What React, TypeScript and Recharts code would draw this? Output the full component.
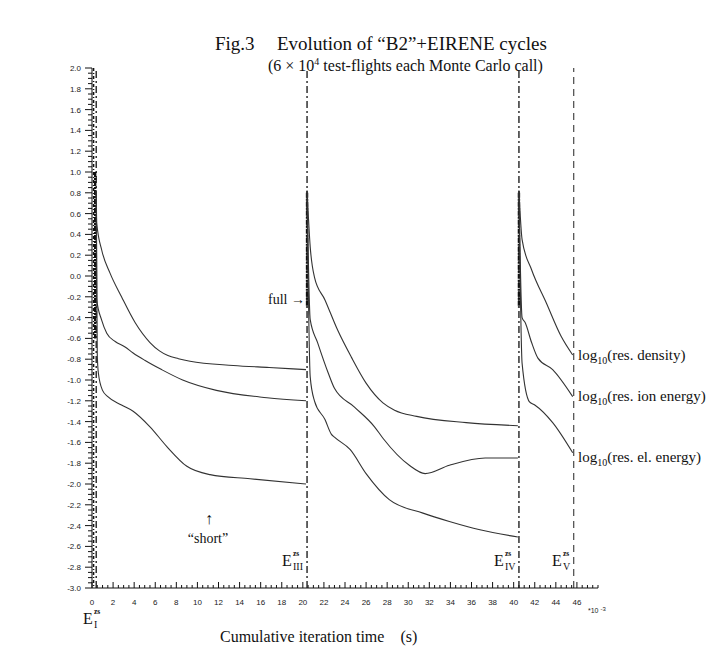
import React from "react";
import { LineChart, Line, XAxis, YAxis, ReferenceLine } from "recharts";

// readings taken off the figure: [time (1e-3 s), log10 residual]
const densityC1 = [[0.4, 0.82], [0.45, 0.51], [0.92, 0.25], [1.7, 0.03], [2.8, -0.2], [4.1, -0.45], [5.5, -0.64], [6.4, -0.72], [7.2, -0.765], [8.2, -0.795], [9.3, -0.82], [13.4, -0.86], [16.8, -0.88], [20.3, -0.9]];
const densityC2 = [[20.4, 0.82], [20.7, 0.28], [21.1, -0.01], [22.1, -0.23], [23.3, -0.52], [24.6, -0.78], [26, -1.03], [27.6, -1.22], [28.7, -1.29], [30.8, -1.35], [35.5, -1.41], [40.4, -1.44]];
const densityC3 = [[40.5, 0.82], [40.8, 0.35], [41.7, 0.06], [43.1, -0.26], [44.5, -0.58], [45.6, -0.76]];

const ionC1 = [[0.4, 0.82], [0.45, -0.23], [0.9, -0.42], [1.4, -0.55], [2.2, -0.63], [3.1, -0.68], [3.9, -0.74], [5.0, -0.81], [6.6, -0.9], [8.6, -1.0], [11.8, -1.1], [16.6, -1.17], [20.3, -1.2]];
const ionC2 = [[20.4, 0.82], [20.7, -0.42], [21.4, -0.64], [22.4, -0.93], [23, -1.08], [24.9, -1.26], [26.8, -1.45], [27.6, -1.56], [30.1, -1.82], [31.6, -1.9], [33.9, -1.82], [37.3, -1.75], [40.4, -1.75]];
const ionC3 = [[40.5, 0.82], [40.8, -0.4], [41.1, -0.45], [41.7, -0.64], [42.3, -0.79], [43.7, -0.9], [45.6, -1.16]];

const elC1 = [[0.4, 0.82], [0.5, -0.75], [0.6, -0.93], [1.0, -1.1], [1.5, -1.16], [2.8, -1.24], [3.9, -1.3], [5.5, -1.45], [7.1, -1.64], [9.0, -1.83], [11.2, -1.91], [15, -1.95], [20.3, -2.0]];
const elC2 = [[20.4, 0.82], [20.7, -0.97], [21.1, -1.2], [22.1, -1.38], [22.7, -1.52], [23, -1.55], [24.5, -1.67], [26, -1.9], [28.2, -2.15], [31.4, -2.28], [33.9, -2.36], [36.8, -2.44], [40.4, -2.51]];
const elC3 = [[40.5, 0.82], [40.8, -0.84], [41.5, -1.21], [42.0, -1.24], [43.7, -1.41], [45.6, -1.7]];

// cycle boundaries (E_I, E_III, E_IV, E_V)
const boundaries = [0.4, 20.4, 40.5, 45.7];
// dense "short" runs smeared along the boundaries: [time, top, bottom]
const shortRuns = [[0.3, 1.0, -0.6], [0.15, 2.0, -3.0], [20.4, 0.8, -0.3], [40.5, 0.8, -0.3]];

const xMajor = [0, 2, 4, 6, 8, 10, 12, 14, 16, 18, 20, 22, 24, 26, 28, 30, 32, 34, 36, 38, 40, 42, 44, 46];
const yMajor = [2.0, 1.8, 1.6, 1.4, 1.2, 1.0, 0.8, 0.6, 0.4, 0.2, 0.0, -0.2, -0.4, -0.6, -0.8, -1.0, -1.2, -1.4, -1.6, -1.8, -2.0, -2.2, -2.4, -2.6, -2.8, -3.0];

const xTicks: number[] = [];
for (let i = 0; i <= 96; i++) xTicks.push(i * 0.5);
const yTicks: number[] = [];
for (let i = 0; i <= 100; i++) yTicks.push(Math.round((-3 + i * 0.05) * 100) / 100);

const series = [densityC1, densityC2, densityC3, ionC1, ionC2, ionC3, elC1, elC2, elC3].map((s) =>
  s.map(([t, v]) => ({ t, v }))
);

const serif = "'Liberation Serif', 'DejaVu Serif', serif";
const sans = "'Liberation Sans', Arial, sans-serif";

const isMajor = (list: number[], v: number) => list.some((m) => Math.abs(m - v) < 1e-6);

const YTick = (props: any) => {
  const { x, y, payload } = props;
  const major = isMajor(yMajor, payload.value);
  return (
    <g>
      <line x1={x - (major ? 7 : 4)} x2={x} y1={y} y2={y} stroke="#111" strokeWidth={1} />
      {major && (
        <text x={x - 11} y={y + 3} textAnchor="end" fontSize={8} fontFamily={sans} fill="#222">
          {payload.value.toFixed(1)}
        </text>
      )}
    </g>
  );
};

const XTick = (props: any) => {
  const { x, y, payload } = props;
  const major = isMajor(xMajor, payload.value);
  return (
    <g>
      <line x1={x} x2={x} y1={y} y2={y - (major ? 6 : 3)} stroke="#111" strokeWidth={1} />
      {major && (
        <text x={x} y={y + 17} textAnchor="middle" fontSize={8} fontFamily={sans} fill="#222">
          {payload.value}
        </text>
      )}
    </g>
  );
};

// E with "zs" stacked over the roman subscript
const ELabel = ({ x, y, sub }: { x: number; y: number; sub: string }) => (
  <text x={x} y={y} fontFamily={serif} fontSize={16} fill="#111">
    E
    <tspan x={x + 11} dy={-10} fontSize={7.5} fontWeight="bold">zs</tspan>
    <tspan x={x + 11} dy={14} fontSize={10}>{sub}</tspan>
  </text>
);

const LogLabel = ({ y, what }: { y: number; what: string }) => (
  <text x={578} y={y} fontFamily={serif} fontSize={15} fill="#111">
    log<tspan fontSize={10} dy={4}>10</tspan>
    <tspan dy={-4}>(res. {what})</tspan>
  </text>
);

export default function App() {
  return (
    <div style={{ position: "absolute", left: 0, top: 0, width: 717, height: 670, background: "#fff" }}>
      <LineChart width={717} height={670} margin={{ top: 68, right: 119, bottom: 52, left: 42 }}>
        <XAxis
          type="number"
          dataKey="t"
          domain={[0, 48]}
          ticks={xTicks}
          interval={0}
          tickSize={0}
          tickMargin={0}
          tickLine={false}
          tick={<XTick />}
          axisLine={{ stroke: "#111" }}
          height={30}
          allowDataOverflow
        />
        <YAxis
          type="number"
          domain={[-3, 2]}
          ticks={yTicks}
          interval={0}
          tickSize={0}
          tickMargin={0}
          tickLine={false}
          tick={<YTick />}
          axisLine={{ stroke: "#111" }}
          width={50}
          allowDataOverflow
        />
        {boundaries.map((b, i) => (
          <ReferenceLine
            key={b}
            x={b}
            stroke="#222"
            strokeWidth={i === 3 ? 1 : 1.4}
            strokeDasharray={i === 3 ? "7 5" : "7 3 2 3"}
          />
        ))}
        {shortRuns.map(([t, top, bottom], i) => (
          <ReferenceLine
            key={"s" + i}
            segment={[{ x: t, y: top }, { x: t, y: bottom }]}
            stroke="#111"
            strokeWidth={i === 1 ? 1.5 : 2.4}
            strokeDasharray={i === 1 ? "3 2 1 2" : "5 1 2 1"}
          />
        ))}
        {series.map((pts, i) => (
          <Line
            key={i}
            data={pts}
            dataKey="v"
            type="monotone"
            stroke="#333"
            strokeWidth={1.1}
            dot={false}
            isAnimationActive={false}
          />
        ))}
      </LineChart>
      <svg width={717} height={670} style={{ position: "absolute", left: 0, top: 0, pointerEvents: "none" }}>
        <text x={215} y={50} fontFamily={serif} fontSize={19} fill="#111">Fig.3</text>
        <text x={277} y={50} fontFamily={serif} fontSize={19} fill="#111">Evolution of “B2”+EIRENE cycles</text>
        <text x={268} y={71} fontFamily={serif} fontSize={16} fill="#111">
          (6 × 10<tspan fontSize={10} dy={-6}>4</tspan>
          <tspan dy={6}> test-flights each Monte Carlo call)</tspan>
        </text>
        <text x={268} y={304} fontFamily={serif} fontSize={14} fill="#111">full →</text>
        <text x={209} y={524} fontFamily={serif} fontSize={16} textAnchor="middle" fill="#111">↑</text>
        <text x={208} y={543} fontFamily={serif} fontSize={14} textAnchor="middle" fill="#111">“short”</text>
        <ELabel x={83} y={624} sub="I" />
        <ELabel x={282} y={566} sub="III" />
        <ELabel x={494} y={566} sub="IV" />
        <ELabel x={552} y={566} sub="V" />
        <LogLabel y={360} what="density" />
        <LogLabel y={401} what="ion energy" />
        <LogLabel y={462} what="el. energy" />
        <text x={588} y={613} fontFamily={sans} fontSize={7} fill="#222">
          *10 <tspan fontSize={6} dy={-2}>-3</tspan>
        </text>
        <text x={220} y={642} fontFamily={serif} fontSize={16} fill="#111">
          Cumulative iteration time{"\u00a0\u00a0\u00a0\u00a0"}(s)
        </text>
      </svg>
    </div>
  );
}
